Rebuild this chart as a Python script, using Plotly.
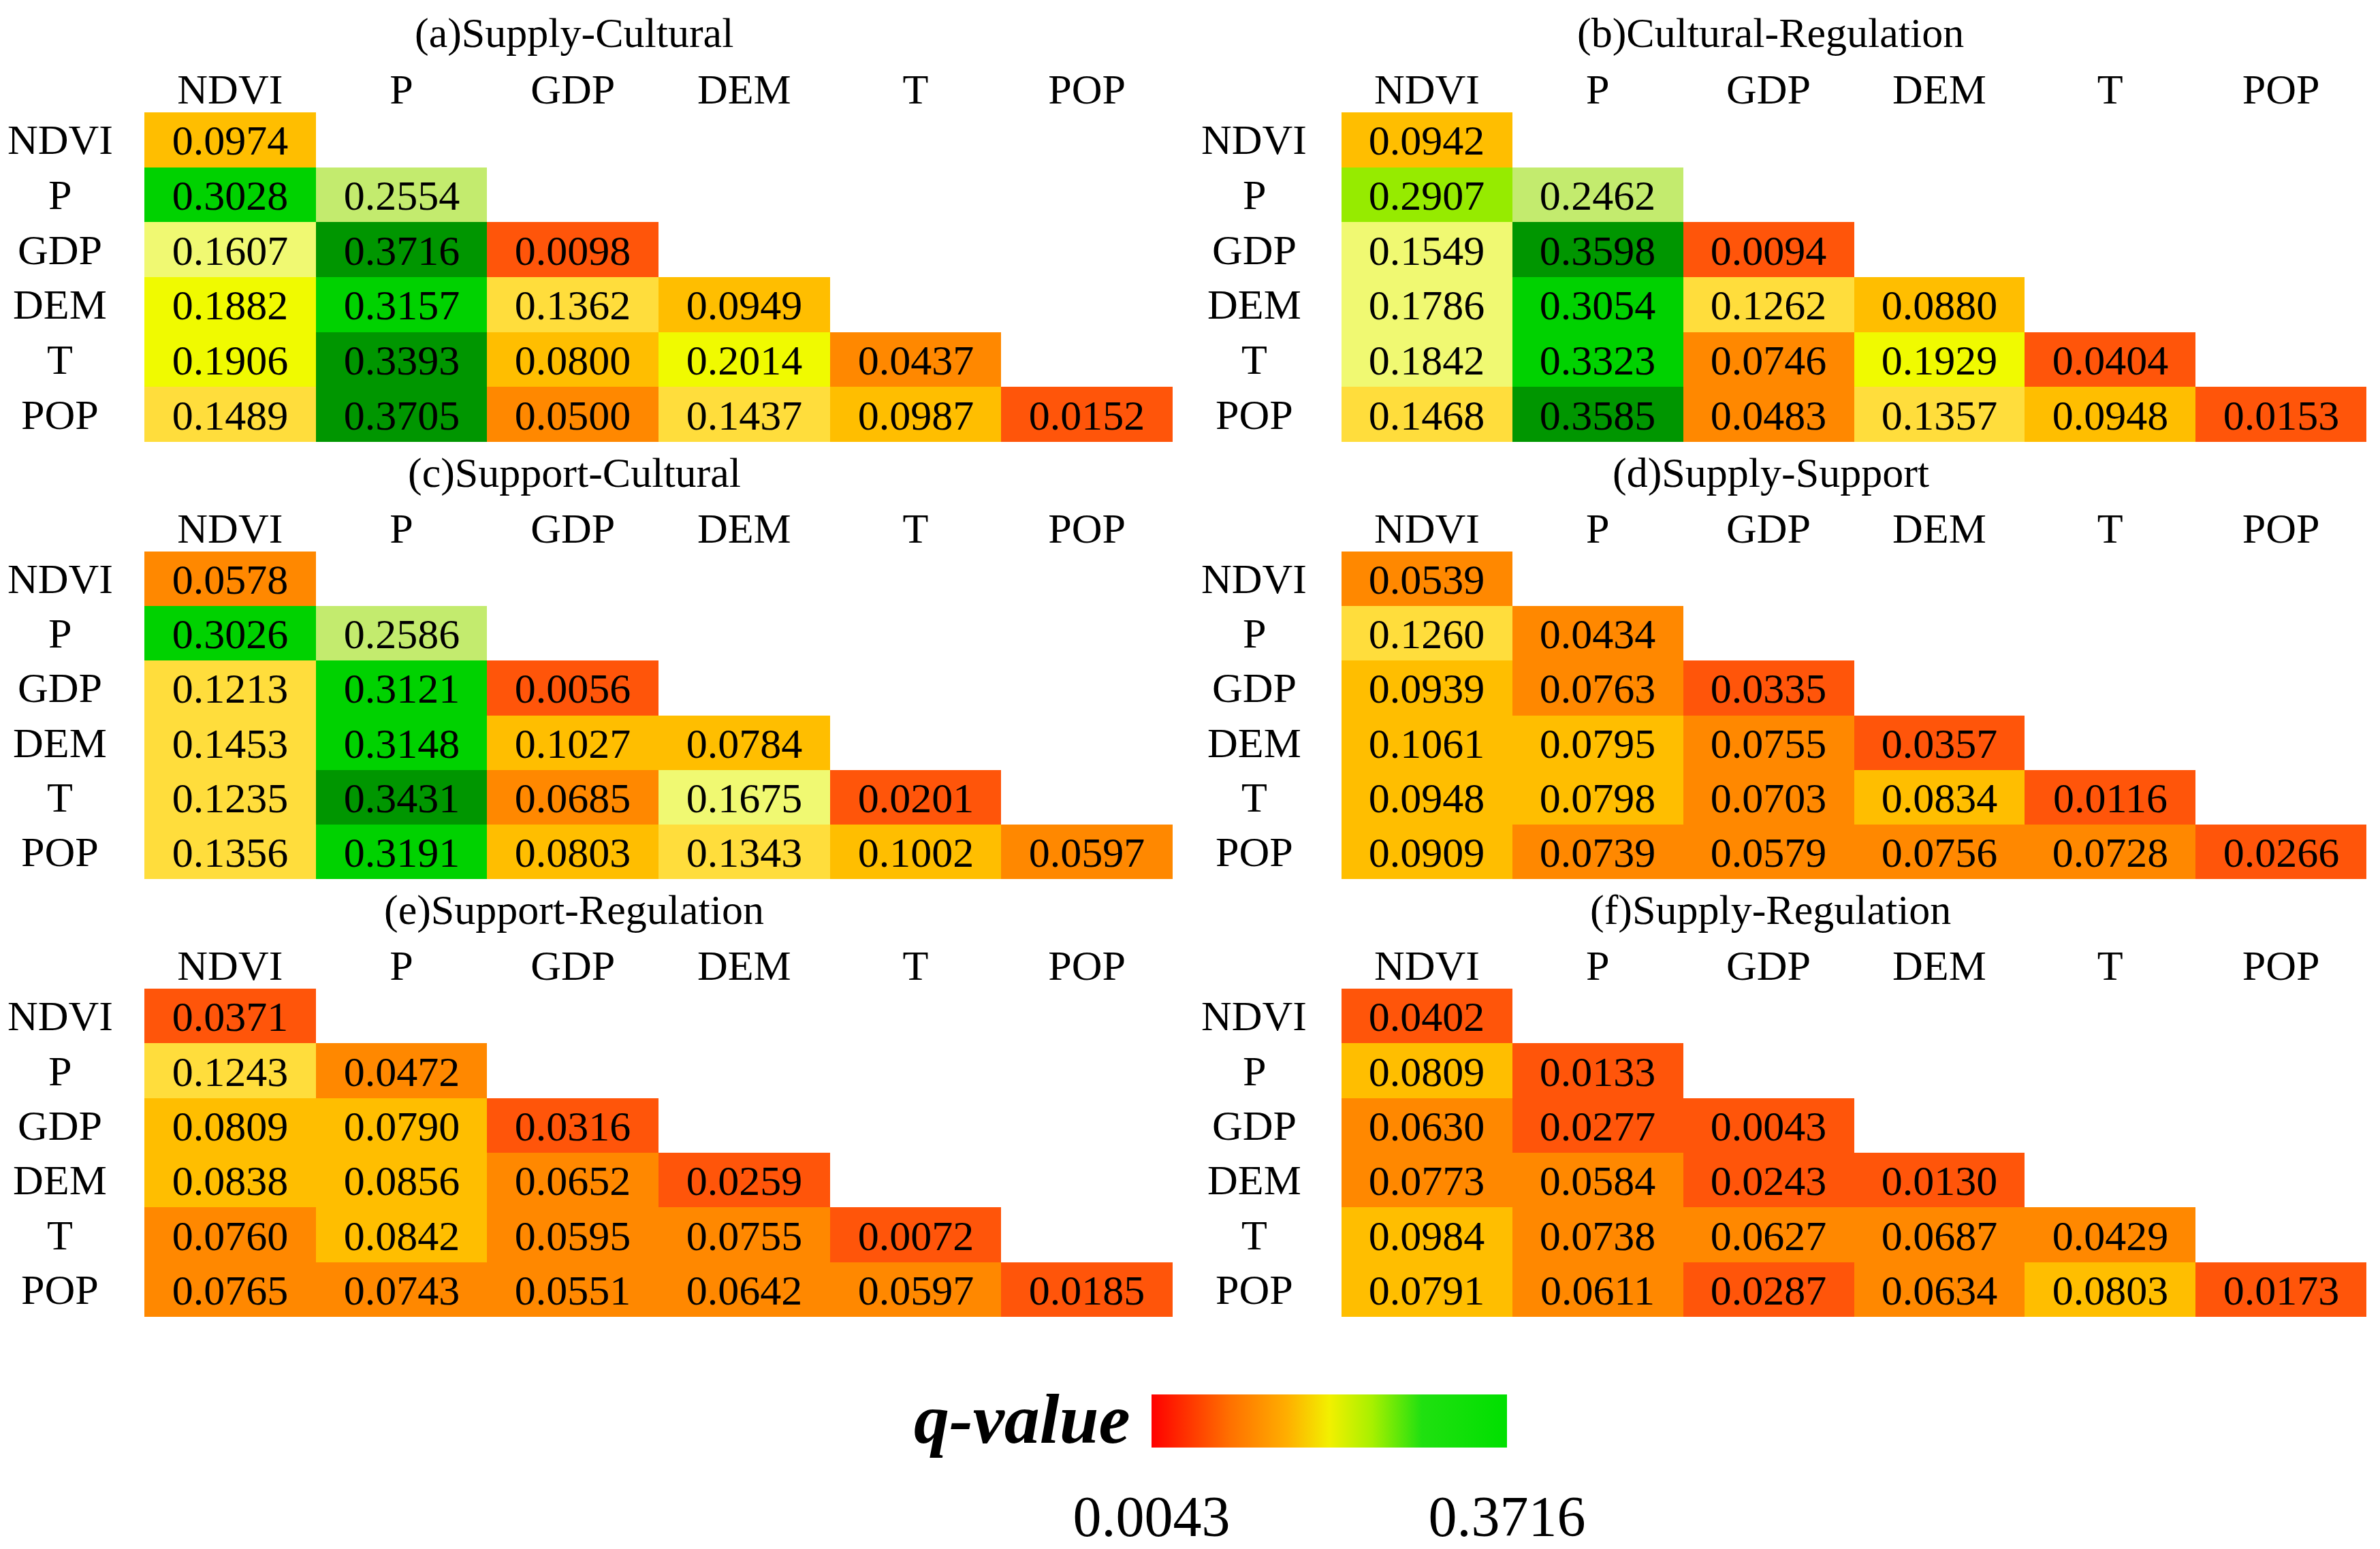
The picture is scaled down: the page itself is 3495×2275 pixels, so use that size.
import plotly.graph_objects as go

W, H = 3495, 2275
FONT = "Liberation Serif"

factors = ["NDVI", "P", "GDP", "DEM", "T", "POP"]
titles = [
    "(a)Supply-Cultural",
    "(b)Cultural-Regulation",
    "(c)Support-Cultural",
    "(d)Supply-Support",
    "(e)Support-Regulation",
    "(f)Supply-Regulation",
]

# lower-triangle q values, row by row (NDVI, P, GDP, DEM, T, POP)
supply_cultural = [
    [0.0974],
    [0.3028, 0.2554],
    [0.1607, 0.3716, 0.0098],
    [0.1882, 0.3157, 0.1362, 0.0949],
    [0.1906, 0.3393, 0.0800, 0.2014, 0.0437],
    [0.1489, 0.3705, 0.0500, 0.1437, 0.0987, 0.0152],
]
cultural_regulation = [
    [0.0942],
    [0.2907, 0.2462],
    [0.1549, 0.3598, 0.0094],
    [0.1786, 0.3054, 0.1262, 0.0880],
    [0.1842, 0.3323, 0.0746, 0.1929, 0.0404],
    [0.1468, 0.3585, 0.0483, 0.1357, 0.0948, 0.0153],
]
support_cultural = [
    [0.0578],
    [0.3026, 0.2586],
    [0.1213, 0.3121, 0.0056],
    [0.1453, 0.3148, 0.1027, 0.0784],
    [0.1235, 0.3431, 0.0685, 0.1675, 0.0201],
    [0.1356, 0.3191, 0.0803, 0.1343, 0.1002, 0.0597],
]
supply_support = [
    [0.0539],
    [0.1260, 0.0434],
    [0.0939, 0.0763, 0.0335],
    [0.1061, 0.0795, 0.0755, 0.0357],
    [0.0948, 0.0798, 0.0703, 0.0834, 0.0116],
    [0.0909, 0.0739, 0.0579, 0.0756, 0.0728, 0.0266],
]
support_regulation = [
    [0.0371],
    [0.1243, 0.0472],
    [0.0809, 0.0790, 0.0316],
    [0.0838, 0.0856, 0.0652, 0.0259],
    [0.0760, 0.0842, 0.0595, 0.0755, 0.0072],
    [0.0765, 0.0743, 0.0551, 0.0642, 0.0597, 0.0185],
]
supply_regulation = [
    [0.0402],
    [0.0809, 0.0133],
    [0.0630, 0.0277, 0.0043],
    [0.0773, 0.0584, 0.0243, 0.0130],
    [0.0984, 0.0738, 0.0627, 0.0687, 0.0429],
    [0.0791, 0.0611, 0.0287, 0.0634, 0.0803, 0.0173],
]
panels = [supply_cultural, cultural_regulation, support_cultural,
          supply_support, support_regulation, supply_regulation]

q_min, q_max = 0.0043, 0.3716

# 10 equal classes between q_min and q_max
bin_colors = ["#FF550A", "#FF8800", "#FFBE00", "#FFDD3C", "#F0F972",
              "#F0FA00", "#C3EB6E", "#96EB00", "#00D200", "#009600"]
step_scale = []
for i, c in enumerate(bin_colors):
    step_scale += [[i / 10, c], [(i + 1) / 10, c]]

bar_scale = [[0.0, "#ff0000"], [0.22, "#ff7000"], [0.38, "#ffae00"],
             [0.5, "#f2f000"], [0.62, "#a8f000"], [0.76, "#20e010"],
             [1.0, "#00e000"]]

# pixel layout of the six tables
col_x = [(212, 1722), (1970, 3475)]
row_y = [(165, 649), (810, 1291), (1452, 1934)]
label_x = [88, 1842]
title_x = [843, 2600]

fig = go.Figure()

for k, rows in enumerate(panels):
    r, c = divmod(k, 2)
    n = k + 1
    z, txt = [], []
    for i in range(6):
        zr, tr = [], []
        for j in range(6):
            if j < len(rows[i]):
                zr.append(rows[i][j])
                tr.append(f"{rows[i][j]:.4f}")
            else:
                zr.append(None)
                tr.append("")
        z.append(zr)
        txt.append(tr)

    xa = "x" if n == 1 else f"x{n}"
    ya = "y" if n == 1 else f"y{n}"
    fig.add_trace(go.Heatmap(
        z=z, x=factors, y=factors, text=txt, texttemplate="%{text}",
        textfont=dict(family=FONT, size=62, color="black"),
        colorscale=step_scale, zmin=q_min, zmax=q_max, showscale=False,
        hoverinfo="skip", xaxis=xa, yaxis=ya,
    ))

    x0, x1 = col_x[c]
    y0, y1 = row_y[r]
    fig.update_layout({
        f"xaxis{n if n > 1 else ''}": dict(
            domain=[x0 / W, x1 / W], anchor=ya, side="top", type="category",
            range=[-0.5, 5.5], showgrid=False, zeroline=False, showline=False,
            ticks="", tickfont=dict(family=FONT, size=62, color="black"),
            fixedrange=True,
        ),
        f"yaxis{n if n > 1 else ''}": dict(
            domain=[1 - y1 / H, 1 - y0 / H], anchor=xa, type="category",
            range=[5.5, -0.5], showgrid=False, zeroline=False, showline=False,
            showticklabels=False, ticks="", fixedrange=True,
        ),
    })

    for f in factors:
        fig.add_annotation(
            x=label_x[c] / W, xref="paper", y=f, yref=ya, text=f,
            showarrow=False, xanchor="center", yanchor="middle",
            font=dict(family=FONT, size=62, color="black"),
        )
    fig.add_annotation(
        x=title_x[c] / W, xref="paper", y=1 - (y0 - 116) / H, yref="paper",
        text=titles[k], showarrow=False, xanchor="center", yanchor="middle",
        font=dict(family=FONT, size=62, color="black"),
    )

# continuous legend bar
fig.add_trace(go.Scatter(
    x=[None], y=[None], mode="markers", showlegend=False, hoverinfo="skip",
    marker=dict(
        color=[q_min], cmin=q_min, cmax=q_max, colorscale=bar_scale,
        showscale=True,
        colorbar=dict(
            orientation="h", x=1952 / W, xanchor="center",
            y=1 - 2048 / H, yanchor="top",
            lenmode="pixels", len=522, thickness=78,
            outlinewidth=0, xpad=0, ypad=0,
            tickvals=[q_min, q_max], ticktext=["0.0043", "0.3716"],
            ticks="outside", ticklen=30, tickcolor="rgba(0,0,0,0)",
            tickfont=dict(family=FONT, size=84, color="black"),
        ),
    ),
))
fig.add_annotation(
    x=1662 / W, xref="paper", y=1 - 2083 / H, yref="paper",
    text="<b><i>q-value</i></b>", showarrow=False,
    xanchor="right", yanchor="middle",
    font=dict(family=FONT, size=104, color="black"),
)

fig.update_layout(
    width=W, height=H, margin=dict(l=0, r=0, t=0, b=0),
    paper_bgcolor="white", plot_bgcolor="white", showlegend=False,
)

fig.write_html(
    "out.html",
    config={"displayModeBar": False},
    post_script="document.body.style.margin='0';document.body.style.overflow='hidden';",
)
